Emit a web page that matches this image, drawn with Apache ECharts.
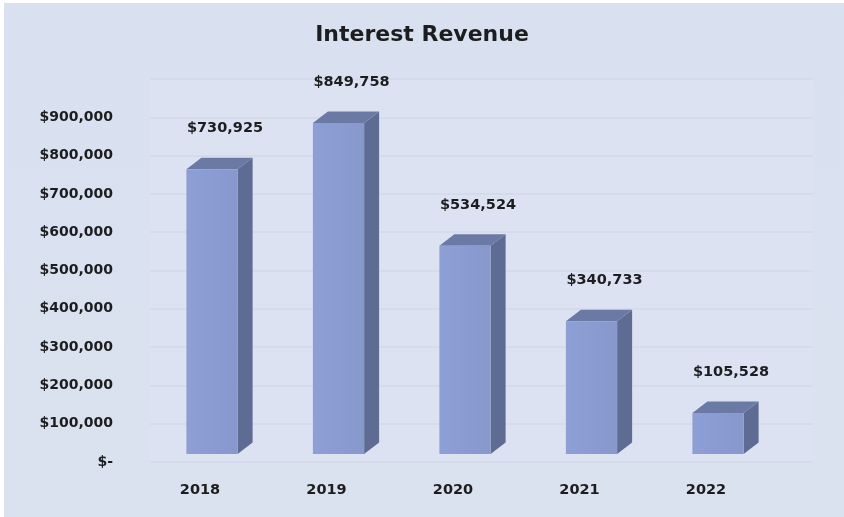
<!DOCTYPE html>
<html>
<head>
<meta charset="utf-8">
<title>Interest Revenue</title>
<script src="https://cdn.jsdelivr.net/npm/echarts@6/dist/echarts.min.js"></script>
<style>
  html, body { margin: 0; padding: 0; background: #ffffff; }
  #chart { width: 844px; height: 517px; }
</style>
</head>
<body>
<div id="chart"></div>
<script>
// Fiscal years and interest revenue (USD)
const years = ['2018', '2019', '2020', '2021', '2022'];
const revenue = [730925, 849758, 534524, 340733, 105528];

// Value axis ticks
const axisMin = 0;
const axisMax = 1000000;
const axisStep = 100000;

const FONT = 'DejaVu Sans';
const INK = '#1d1d1f';

function money(v) {
  if (v === 0) return '$-';
  return '$' + Math.round(v).toLocaleString('en-US');
}

const chart = echarts.init(document.getElementById('chart'), null, { renderer: 'canvas' });

// depth of the extruded box faces
const DEPTH_X = 15;
const DEPTH_Y = 11.5;

function renderBox(params, api) {
  const cat = api.value(0);
  const val = api.value(1);
  const top = api.coord([cat, val]);
  const base = api.coord([cat, 0]);
  const w = api.size([1, 0])[0] * 0.405;
  const x0 = top[0] - w / 2;
  const x1 = x0 + w;
  const yT = top[1];
  const yB = base[1];
  return {
    type: 'group',
    children: [
      {
        type: 'polygon',
        shape: { points: [[x1, yT], [x1 + DEPTH_X, yT - DEPTH_Y], [x1 + DEPTH_X, yB - DEPTH_Y], [x1, yB]] },
        style: { fill: '#5e6c93' }
      },
      {
        type: 'polygon',
        shape: { points: [[x0, yT], [x0 + DEPTH_X, yT - DEPTH_Y], [x1 + DEPTH_X, yT - DEPTH_Y], [x1, yT]] },
        style: { fill: '#6b7aa5' }
      },
      {
        type: 'rect',
        shape: { x: x0, y: yT, width: w, height: yB - yT },
        style: {
          fill: new echarts.graphic.LinearGradient(0, 0, 1, 0, [
            { offset: 0, color: '#8e9fd6' },
            { offset: 1, color: '#8798cd' }
          ])
        }
      },
      {
        type: 'text',
        style: {
          text: money(val),
          x: top[0] + 13,
          y: yT - 41,
          align: 'center',
          verticalAlign: 'middle',
          font: 'bold 14.5px "' + FONT + '"',
          fill: INK
        }
      }
    ]
  };
}

const option = {
  backgroundColor: '#ffffff',
  animation: false,
  title: {
    text: 'Interest Revenue',
    left: 'center',
    top: 19,
    textStyle: { fontFamily: FONT, fontWeight: 'bold', fontSize: 22, color: INK }
  },
  graphic: [
    {
      type: 'rect',
      z: -10,
      shape: { x: 4, y: 3, width: 840, height: 514 },
      style: {
        fill: new echarts.graphic.LinearGradient(0, 0, 0, 1, [
          { offset: 0, color: '#d9e1f1' },
          { offset: 1, color: '#dae1ef' }
        ])
      }
    },
    {
      // back wall of the plot
      type: 'rect',
      z: -9,
      shape: { x: 150, y: 79, width: 663, height: 384 },
      style: { fill: '#dde2f3' }
    }
  ],
  grid: [
    // back wall: value scale and gridlines
    { left: 150, right: 31, top: 79, bottom: 55 },
    // front plane: the boxes and year labels
    { left: 148.75, right: 62.75, top: 64.5, bottom: 63 }
  ],
  xAxis: [
    { gridIndex: 0, type: 'value', min: 0, max: 1, show: false },
    {
      gridIndex: 1,
      type: 'category',
      data: years,
      axisLine: { show: false },
      axisTick: { show: false },
      axisLabel: {
        margin: 29,
        padding: [0, 24, 0, 0],
        fontFamily: FONT,
        fontWeight: 'bold',
        fontSize: 14.5,
        color: INK
      }
    }
  ],
  yAxis: [
    {
      gridIndex: 0,
      type: 'value',
      min: axisMin,
      max: axisMax,
      interval: axisStep,
      axisLine: { show: false },
      axisTick: { show: false },
      axisLabel: {
        margin: 37,
        formatter: money,
        showMaxLabel: false,
        fontFamily: FONT,
        fontWeight: 'bold',
        fontSize: 14,
        color: INK
      },
      splitLine: { show: true, lineStyle: { color: '#d2d8e8', width: 1.5 } }
    },
    {
      gridIndex: 1,
      type: 'value',
      min: axisMin,
      max: axisMax,
      show: false
    }
  ],
  series: [
    {
      type: 'custom',
      name: 'Interest Revenue',
      xAxisIndex: 1,
      yAxisIndex: 1,
      renderItem: renderBox,
      encode: { x: 0, y: 1 },
      data: years.map((y, i) => [i, revenue[i]])
    }
  ]
};

chart.setOption(option);
</script>
</body>
</html>
